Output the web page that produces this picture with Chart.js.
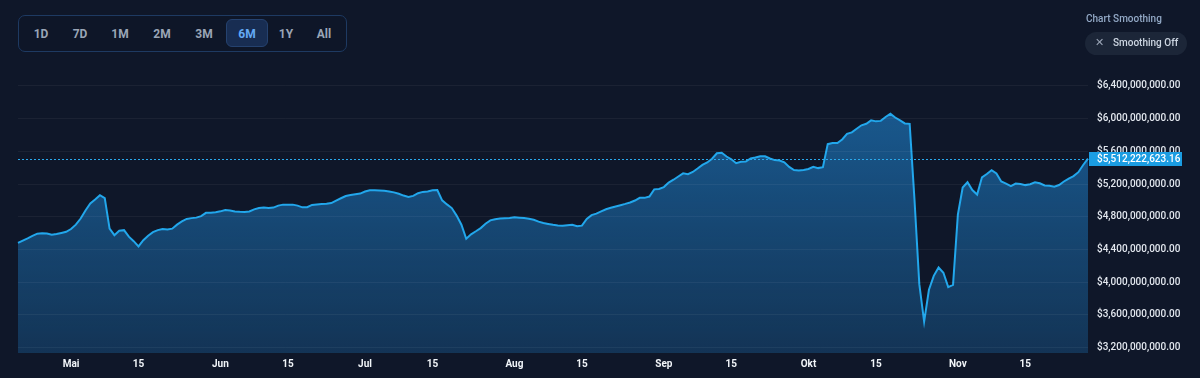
<!DOCTYPE html>
<html>
<head>
<meta charset="utf-8">
<script src="https://cdn.jsdelivr.net/npm/chart.js@4.4.1/dist/chart.umd.min.js"></script>
<style>
  html, body { margin: 0; padding: 0; background: #0f1729; width: 1200px; height: 378px; overflow: hidden; font-family: Roboto, "Noto Sans", sans-serif; }
  #chartBox { position: absolute; left: 0; top: 0; width: 1200px; height: 378px; }
  .ranges { position: absolute; left: 18px; top: 15px; width: 329px; height: 37px; box-sizing: border-box; border: 1px solid #1e3a62; border-radius: 7px; background: #0e1628; }
  .ranges span { position: absolute; top: 18px; transform: translate(-50%, -50%); color: #9aa5b6; font-size: 12px; font-weight: 700; }
  .ranges .active { position: absolute; left: 207px; top: 3px; width: 42px; height: 28px; box-sizing: border-box; border-radius: 6px; background: #182d52; border: 1px solid #25426f; }
  .ranges span.on { color: #63a9f4; }
  .smooth-title { position: absolute; left: 1086px; top: 13px; color: #93a9c6; font-size: 10px; font-weight: 500; }
  .smooth-pill { position: absolute; left: 1085px; top: 32px; width: 102px; height: 23px; border-radius: 12px; background: #1c2638; color: #cdd6e2; font-size: 10px; font-weight: 500; }
  .smooth-pill .x { position: absolute; left: 10px; top: 4px; color: #9aa5b6; font-size: 11px; }
  .smooth-pill .t { position: absolute; left: 28px; top: 5px; }
</style>
</head>
<body>
<div id="chartBox"><canvas id="chart" width="1200" height="378"></canvas></div>

<div class="ranges">
  <div class="active"></div>
  <span style="left:22px">1D</span>
  <span style="left:61px">7D</span>
  <span style="left:101px">1M</span>
  <span style="left:143px">2M</span>
  <span style="left:185px">3M</span>
  <span class="on" style="left:228px">6M</span>
  <span style="left:267px">1Y</span>
  <span style="left:305px">All</span>
</div>

<div class="smooth-title">Chart Smoothing</div>
<div class="smooth-pill"><span class="x">✕</span><span class="t">Smoothing Off</span></div>

<script>
// daily series, first day below
const startDate = '2024-04-20';
const monthNames = ['Jan', 'Feb', 'Mär', 'Apr', 'Mai', 'Jun', 'Jul', 'Aug', 'Sep', 'Okt', 'Nov', 'Dez'];

// value in billions of dollars, one per day
const valuesBn = [
  4.479, 4.508, 4.536, 4.566, 4.593, 4.599, 4.595, 4.580, 4.589, 4.602,
  4.615, 4.650, 4.703, 4.778, 4.876, 4.962, 5.010, 5.063, 5.028, 4.654,
  4.574, 4.629, 4.636, 4.556, 4.501, 4.437, 4.513, 4.568, 4.611, 4.636,
  4.650, 4.644, 4.654, 4.703, 4.742, 4.773, 4.783, 4.789, 4.807, 4.848,
  4.850, 4.856, 4.866, 4.883, 4.875, 4.863, 4.860, 4.859, 4.865, 4.890,
  4.906, 4.912, 4.908, 4.912, 4.936, 4.948, 4.948, 4.948, 4.936, 4.915,
  4.916, 4.945, 4.951, 4.957, 4.960, 4.967, 4.998, 5.026, 5.053, 5.065,
  5.075, 5.083, 5.108, 5.124, 5.124, 5.121, 5.118, 5.110, 5.098, 5.081,
  5.059, 5.043, 5.055, 5.088, 5.104, 5.110, 5.124, 5.126, 5.001, 4.951,
  4.906, 4.814, 4.703, 4.531, 4.585, 4.622, 4.661, 4.715, 4.756, 4.769,
  4.778, 4.782, 4.785, 4.793, 4.789, 4.784, 4.774, 4.763, 4.740, 4.723,
  4.712, 4.701, 4.693, 4.691, 4.697, 4.701, 4.685, 4.691, 4.773, 4.820,
  4.838, 4.865, 4.891, 4.909, 4.926, 4.941, 4.957, 4.975, 4.998, 5.031,
  5.031, 5.047, 5.135, 5.140, 5.163, 5.218, 5.253, 5.292, 5.331, 5.321,
  5.348, 5.390, 5.434, 5.464, 5.510, 5.577, 5.582, 5.537, 5.503, 5.455,
  5.472, 5.476, 5.513, 5.525, 5.541, 5.540, 5.513, 5.493, 5.487, 5.465,
  5.409, 5.372, 5.367, 5.372, 5.384, 5.410, 5.395, 5.406, 5.688, 5.701,
  5.701, 5.746, 5.814, 5.832, 5.876, 5.919, 5.937, 5.979, 5.967, 5.973,
  6.021, 6.059, 6.014, 5.979, 5.942, 5.937, 5.010, 3.975, 3.517, 3.906,
  4.077, 4.179, 4.114, 3.939, 3.967, 4.826, 5.157, 5.222, 5.126, 5.071,
  5.282, 5.323, 5.369, 5.329, 5.231, 5.206, 5.175, 5.206, 5.201, 5.187,
  5.198, 5.222, 5.209, 5.182, 5.178, 5.167, 5.188, 5.231, 5.267, 5.297,
  5.345, 5.433, 5.51222262316
];

const yTicks = [3.2e9, 3.6e9, 4.0e9, 4.4e9, 4.8e9, 5.2e9, 5.6e9, 6.0e9, 6.4e9];
const yMin = 3.1325e9;
const yMax = 6.62e9;

const fmt = v => '$' + v.toLocaleString('en-US', { minimumFractionDigits: 2, maximumFractionDigits: 2 });

const labels = valuesBn.map((_, i) => {
    const d = new Date(startDate + 'T00:00:00Z');
    d.setUTCDate(d.getUTCDate() + i);
    return d.toISOString().slice(0, 10);
});

// dotted line at the last value + blue tag on the axis
const priceTag = {
    id: 'priceTag',
    afterDatasetsDraw(chart) {
        const { ctx, chartArea, scales: { y } } = chart;
        const data = chart.data.datasets[0].data;
        const py = Math.round(y.getPixelForValue(data[data.length - 1])) + 0.5;
        ctx.save();
        ctx.setLineDash([2, 2]);
        ctx.strokeStyle = '#2aa8ec';
        ctx.lineWidth = 1;
        ctx.beginPath();
        ctx.moveTo(chartArea.left, py);
        ctx.lineTo(chartArea.right, py);
        ctx.stroke();
        ctx.restore();
    },
    afterDraw(chart) {
        const { ctx, chartArea, scales: { y } } = chart;
        const data = chart.data.datasets[0].data;
        const v = data[data.length - 1];
        const py = Math.round(y.getPixelForValue(v));
        ctx.save();
        ctx.fillStyle = '#1b9de2';
        ctx.fillRect(chartArea.right + 1, py - 7, 93, 14);
        ctx.fillStyle = '#ffffff';
        ctx.font = '500 10px Roboto';
        ctx.textBaseline = 'middle';
        ctx.fillText(fmt(v), chartArea.right + 9, py + 0.5);
        ctx.restore();
    }
};

const ctx = document.getElementById('chart');

new Chart(ctx, {
    type: 'line',
    data: {
        labels: labels,
        datasets: [{
            data: valuesBn.map(v => v * 1e9),
            borderColor: '#22a7ec',
            borderWidth: 2,
            pointRadius: 0,
            tension: 0,
            fill: 'start',
            backgroundColor: (c) => {
                const area = c.chart.chartArea;
                if (!area) return 'rgba(30,120,190,0.5)';
                const g = c.chart.ctx.createLinearGradient(0, area.top, 0, area.bottom);
                g.addColorStop(0, 'rgba(30,120,190,0.74)');
                g.addColorStop(1, 'rgba(30,120,190,0.30)');
                return g;
            }
        }]
    },
    options: {
        responsive: false,
        animation: false,
        layout: { padding: { top: 68, left: 18, right: 0, bottom: 0 } },
        plugins: {
            legend: { display: false },
            tooltip: { enabled: false }
        },
        scales: {
            x: {
                grid: { display: false, drawTicks: false },
                border: { display: false },
                afterFit: (s) => { s.height = 25; },
                ticks: {
                    autoSkip: false,
                    maxRotation: 0,
                    minRotation: 0,
                    padding: 5,
                    color: '#f1f5f9',
                    font: { family: 'Roboto', size: 10, weight: '700' },
                    callback: function (val) {
                        const lab = this.getLabelForValue(val);
                        const day = +lab.slice(8, 10);
                        if (day === 1) return monthNames[+lab.slice(5, 7) - 1];
                        if (day === 15) return '15';
                        return null;
                    }
                }
            },
            y: {
                position: 'right',
                min: yMin,
                max: yMax,
                afterBuildTicks: (s) => { s.ticks = yTicks.map(v => ({ value: v })); },
                afterFit: (s) => { s.width = 112; },
                grid: { color: 'rgba(255,255,255,0.05)', drawTicks: false, z: 1 },
                border: { display: false },
                ticks: {
                    padding: 9,
                    color: '#e2e7ee',
                    font: { family: 'Roboto', size: 10, weight: '500' },
                    callback: (v) => fmt(v)
                }
            }
        }
    },
    plugins: [priceTag]
});
</script>
</body>
</html>
